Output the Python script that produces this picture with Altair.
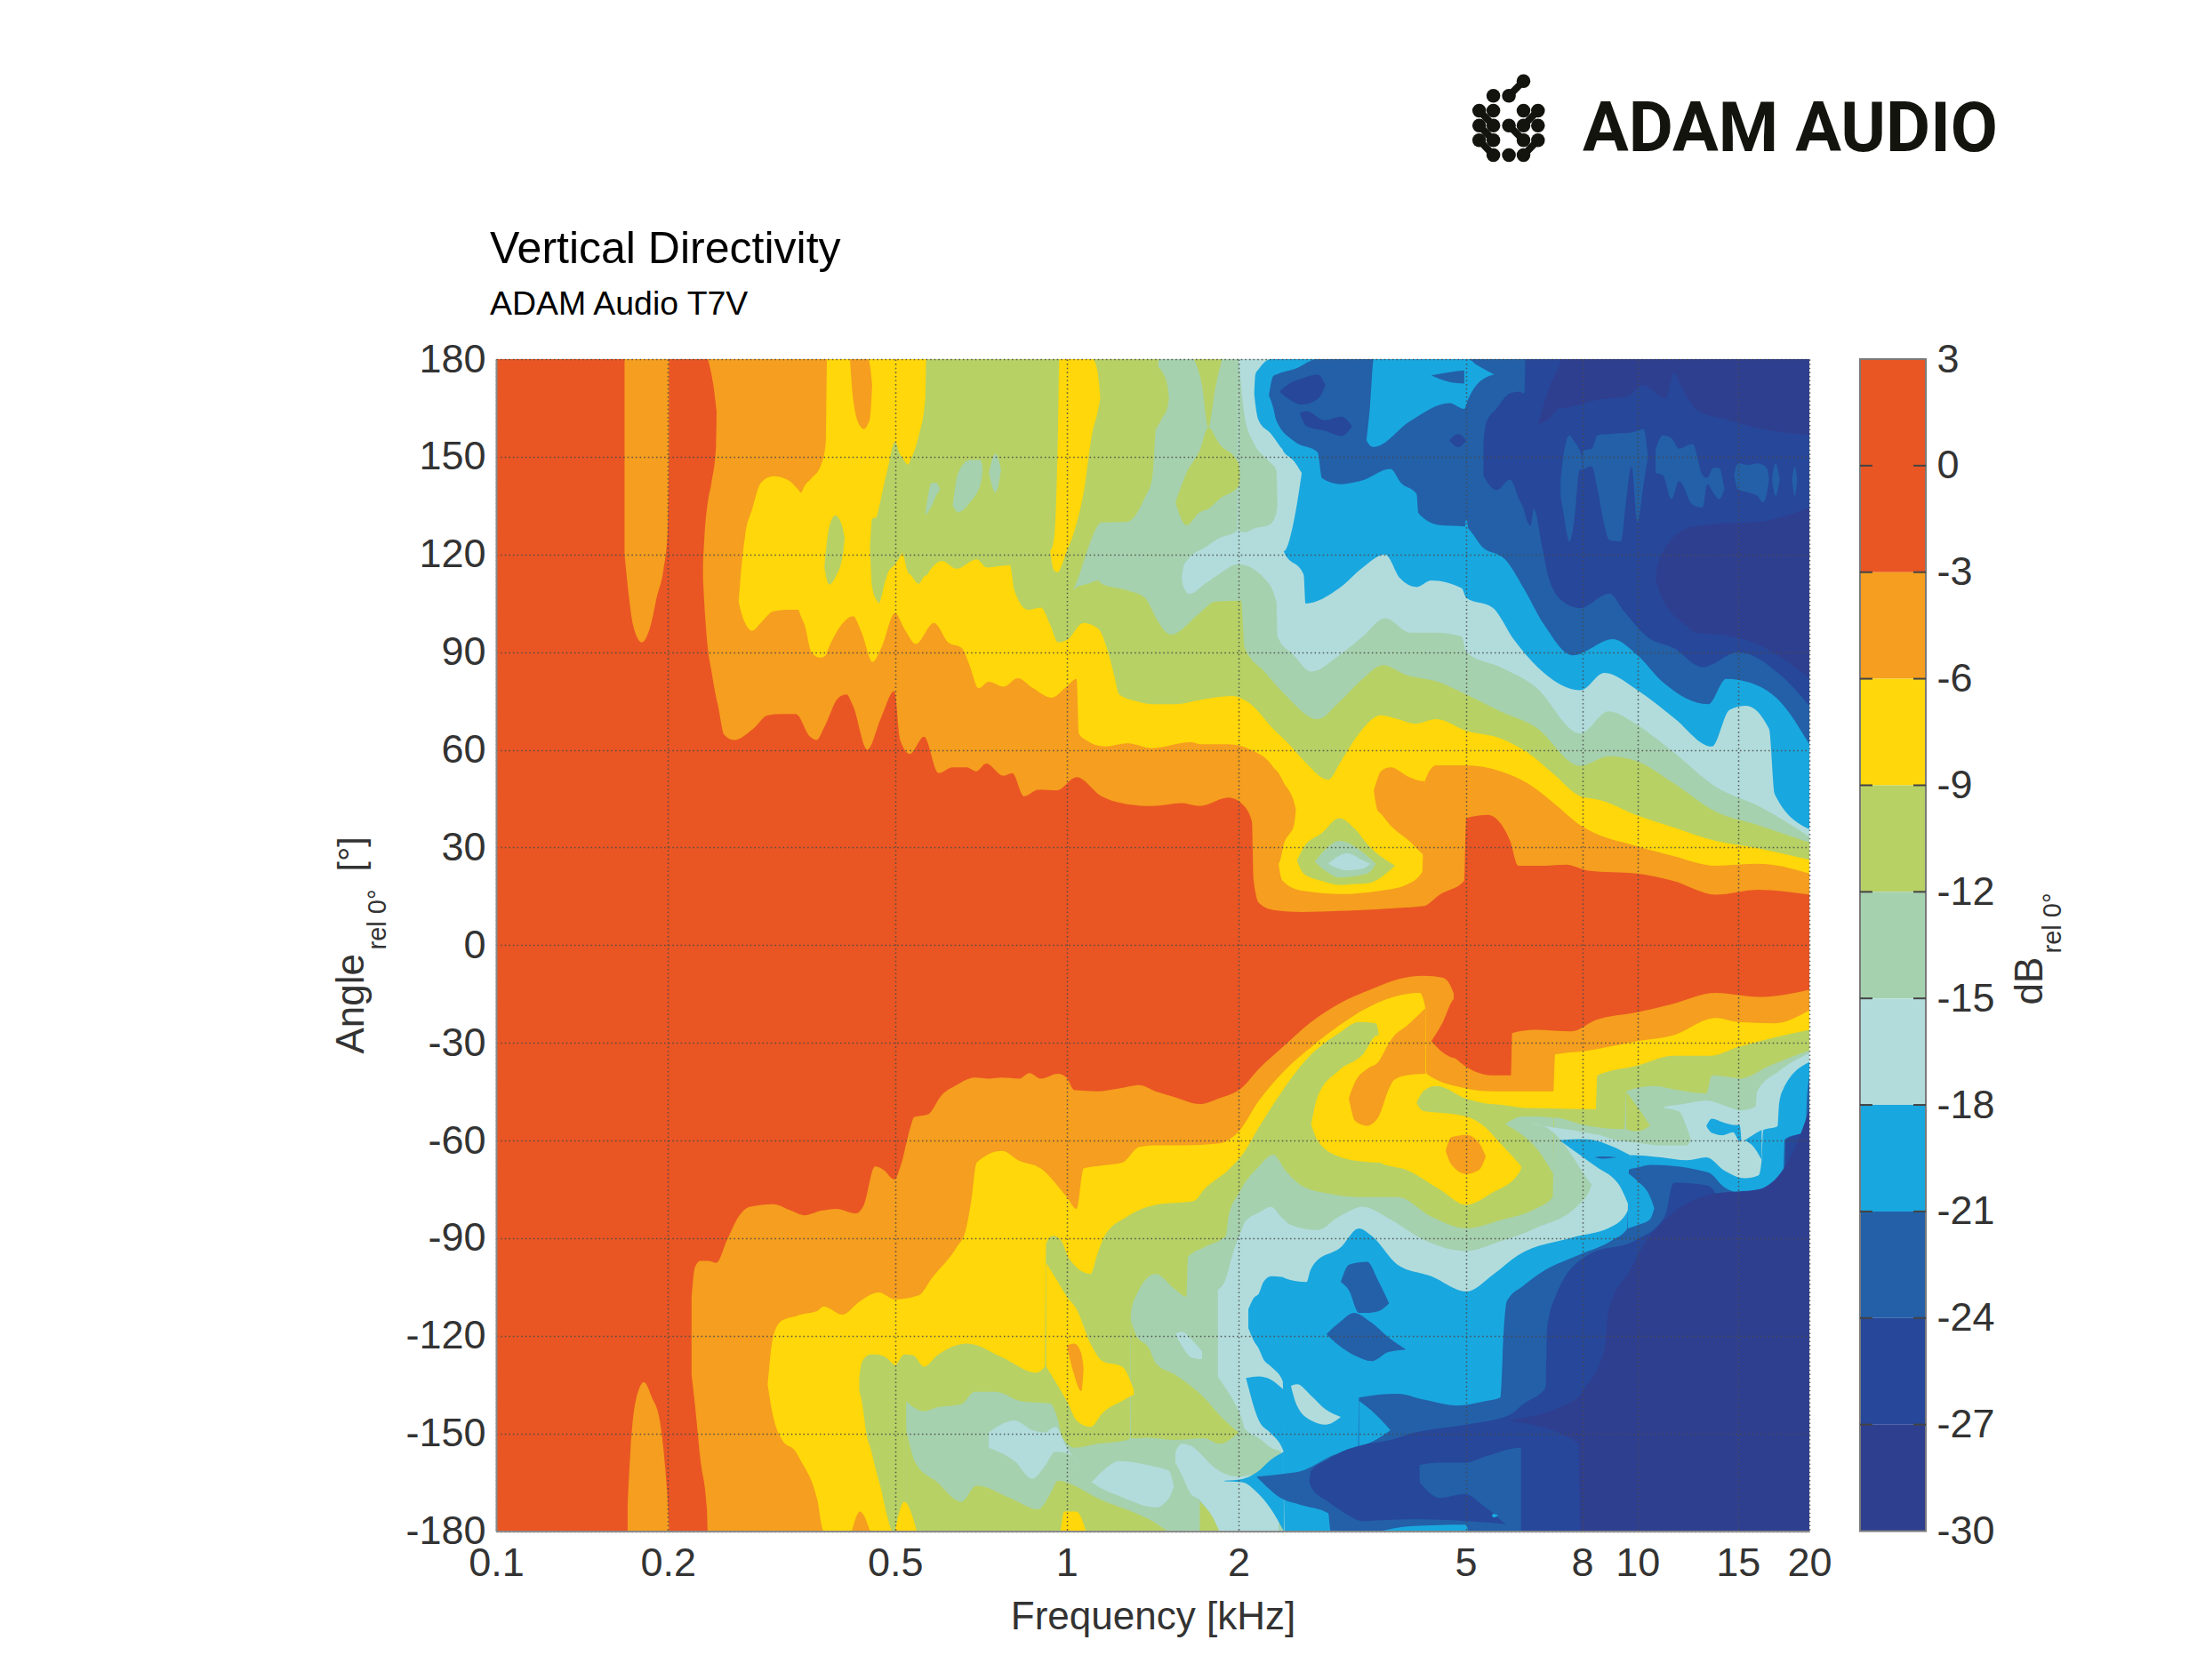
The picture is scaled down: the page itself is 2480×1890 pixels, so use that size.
import altair as alt
import pandas as pd

TITLE = "Vertical Directivity"
SUBTITLE = "ADAM Audio T7V"
BRAND = "ADAM AUDIO"
FREQ_TICKS = [0.1, 0.2, 0.5, 1, 2, 5, 8, 10, 15, 20]
ANGLE_TICKS = list(range(-180, 181, 30))
BAR_TICKS = [3, 0, -3, -6, -9, -12, -15, -18, -21, -24, -27, -30]
LEVELS = ["r", "o", "y", "g", "s", "p", "b", "m", "d", "c"]
COLORS = ["#E95623", "#F59E1F", "#FFD70A", "#B7D165", "#A6D1AF", "#B2DCDC", "#19A7DF", "#2360A8", "#27479A", "#2F3F90"]
BAR_HI = [3, -3, -6, -9, -12, -15, -18, -21, -24, -27]
BAR_LO = [-3, -6, -9, -12, -15, -18, -21, -24, -27, -30]

# Contour regions: (kHz, lower angle, upper angle); two values: the free side is the plot edge.
bg = [(0.1, -180, 180), (20, -180, 180)]
up_o_strip = [(.1679,120,180),(.1709,107,180),(.1739,98,180),(.18,93,180),(.1864,98,180),(.1913,107,180),(.1963,115,180),(.1998,127,180),(.2008,150,180)]
up_o_wedge = [(.235,180,180),(.243,165,180),(.2445,160,180)]
up_o = [(.2304,112.6,117.3),(.232,103,126.8),(.235,91,136.3),(.2385,84,142.2),(.243,76,154),(.2445,74),(.251,64.6),(.2615,63),(.282,66.4),(.299,70.6),(.316,71),(.335,71),(.355,64),(.3645,63),(.376,67),(.398,76),(.411,77),(.422,73.5),(.447,60),(.473,70),(.4985,78),(.5105,63),(.531,58.7),(.562,64),(.596,52.8),(.631,54.6),(.668,54.6),(.6935,53.4),(.7225,55.8),(.7745,52),(.8025,52.8),(.841,45.7),(.891,47.7),(.96,47.5),(1.04,51.6),(1.15,45.7),(1.275,43.3),(1.41,42.7),(1.59,43.6),(1.71,42.7),(1.92,45.3),(2.03,43.3),(2.11,38),(2.125,20),(2.17,13),(2.3,10.8),(2.58,10.2),(3.02,10.5),(3.8,11.4),(4.22,12),(4.5,15.5),(4.97,19.7),(5.01,39),(5.47,40),(5.75,37.4),(5.98,32),(6.18,24.4),(6.85,24.4),(7.5,24.7),(8.18,22.9),(10,22),(11.55,19.7),(13.7,15.5),(16.3,17),(20,15.5)]
low_o_strip = [(.17,-180,-172),(.172,-180,-155),(.1755,-180,-140.2),(.1816,-180,-134.3),(.1875,-180,-139),(.1935,-180,-146),(.198,-180,-161.5),(.2,-180,-172),(.201,-180,-180)]
low_o = [(.22,-132,-109),(.223,-141,-99),(.228,-158,-97),(.234,-173,-97),(.235,-180,-97),(.243,-180,-97.6),(.254,-180,-90.5),(.266,-180,-83.4),(.278,-180,-80.4),(.306,-180,-79.6),(.329,-180,-81.6),(.347,-180,-83),(.371,-180,-81.6),(.394,-180,-81),(.427,-180,-82.4),(.441,-180,-79.8),(.461,-180,-68),(.477,-180,-69),(.499,-180,-72),(.511,-180,-68),(.532,-180,-56),(.54,-180,-52.8),(.571,-180,-52),(.604,-180,-46),(.641,-180,-43),(.69,-180,-40.7),(.73,-180,-41),(.77,-180,-40.7),(.825,-180,-41),(.86,-180,-39.3),(.9,-180,-41),(.965,-180,-39.5),(.999,-180,-40.7),(1.03,-180,-44.5),(1.13,-180,-44.9),(1.235,-180,-44),(1.34,-180,-43),(1.43,-180,-44.9),(1.54,-180,-46.6),(1.71,-180,-48.8),(1.85,-180,-47),(2.02,-180,-44),(2.17,-180,-38),(2.41,-180,-30.7),(2.68,-180,-23.6),(3,-180,-18),(3.42,-180,-13.5),(3.8,-180,-10.5),(4.22,-180,-9.4),(4.56,-180,-10),(4.76,-180,-14.7),(4.8,-180,-34.8),(5.57,-180,-40),(6,-180,-40),(6.03,-180,-27),(6.62,-180,-26),(7.66,-180,-26.5),(8.45,-180,-23),(10,-180,-20.6),(11.55,-180,-18),(13.7,-180,-14.7),(16.3,-180,-15.9),(20,-180,-13.7)]
low_r_patch = [(4.35,-29.5,-29.5),(4.56,-33,-23.6),(4.74,-34.6,-17),(4.8,-34.8,-16),(4.84,-35.2,-15)]
up_y = [(.266,105.5,105.5),(.268,103,112.6),(.273,99,125.6),(.281,96.6,134),(.291,99,142),(.306,102.5,144),(.325,103,142.8),(.338,103,140),(.342,101,139),(.347,98.4,141),(.357,90,143.4),(.37,88.3,147),(.378,89,154),(.38,90),(.403,98.4),(.422,101),(.437,96),(.457,87),(.473,91.3),(.5,102),(.519,97.2),(.544,92.5),(.585,99),(.62,93),(.654,91.3),(.677,85.4),(.7,78.9),(.73,80.9),(.775,79.4),(.82,82),(.873,78.9),(.94,76),(.999,79.4),(1.04,81.8),(1.05,65),(1.08,63),(1.165,61),(1.275,62),(1.41,60.5),(1.65,62.3),(1.71,61.7),(1.92,61.7),(2.1,60),(2.3,54.6),(2.35,25),(2.39,19.7),(2.58,16.7),(3.02,15.7),(3.55,16.7),(3.93,18.5),(4.2,22.6),(4.24,50.4),(4.44,55.2),(5.01,55.2),(5.75,53.4),(6.4,49.8),(7.1,43.9),(7.94,36.8),(10,30.3),(11.55,27.4),(13.7,24.4),(16.3,25),(20,22)]
low_y = [(.299,-135,-135),(.306,-145,-120),(.317,-152,-115.3),(.335,-155.6,-114),(.341,-158,-113.5),(.365,-170,-112.4),(.375,-180,-111),(.404,-180,-113.5),(.434,-180,-109.4),(.468,-180,-106.7),(.5,-180,-108.8),(.55,-180,-107.6),(.58,-180,-102.3),(.641,-180,-92.8),(.664,-180,-88),(.68,-180,-78.6),(.695,-180,-66.8),(.77,-180,-63.2),(.825,-180,-66.2),(.9,-180,-68.6),(1,-180,-77.4),(1.04,-180,-81),(1.07,-180,-68.6),(1.15,-180,-67.7),(1.25,-180,-66.8),(1.34,-180,-62),(1.43,-180,-61.5),(1.59,-180,-61.5),(1.85,-180,-60.9),(2,-180,-57.3),(2.17,-180,-47.8),(2.41,-180,-38.4),(2.68,-180,-31.3),(3,-180,-24.7),(3.3,-180,-20),(3.74,-180,-15.9),(4.15,-180,-14.7),(4.25,-180,-19.4),(4.27,-180,-39.5),(5.01,-180,-44),(5.57,-180,-44.9),(7.12,-180,-44.9),(7.17,-180,-33.6),(8.18,-180,-32.4),(10,-180,-29.5),(11.55,-180,-27.7),(13.7,-180,-22.4),(15,-180,-23.6),(17.4,-180,-24),(20,-180,-20)]
up_o_top = [(.417,180,180),(.422,168,180),(.434,159.5,180),(.441,158.5,180),(.448,160,180),(.452,162,178),(.456,172,172)]
up_o_lobe = [(2.3,54.6,54.6),(2.35,25,52.8),(2.41,32,49.3),(2.45,33.9,47.5),(2.5,36.8,44),(2.52,41.6,41.6)]
up_o_bay = [(3.45,47.5,47.5),(3.5,41.6,51),(3.55,40.4,53.4),(3.69,36.8,54.6),(3.98,32,51.6),(4.2,28,50.4),(4.24,27.4,50.4)]
low_o_spike = [(.42,-180,-180),(.434,-180,-174),(.452,-180,-180)]
up_g = [(.452,122,122),(.456,110,131),(.464,106,131.5),(.468,105,134),(.481,112,143.4),(.485,114,146),(.5,117,154.6),(.511,119.5,150.5),(.514,120.5,150),(.527,114.5,147.6),(.532,113.8,149),(.55,111,156.4),(.565,113.5,168),(.567,113.5),(.575,115),(.604,118),(.641,115.6),(.695,118.5),(.724,116),(.795,116.7),(.809,109),(.855,103),(.9,103.7),(.935,98.4),(.965,93),(1,93.7),(1.07,99),(1.135,97.2),(1.175,91.3),(1.21,83),(1.235,77),(1.34,74.7),(1.41,74),(1.55,74),(1.71,75.3),(1.95,76.5),(2.1,74),(2.3,66.4),(2.45,61.7),(2.63,55.8),(2.87,50.8),(3.02,56.4),(3.25,65),(3.55,70.6),(3.8,69.4),(4.08,68),(4.44,69.4),(5.01,65.8),(5.75,63.5),(6.4,59.3),(7.1,52.8),(7.94,45.7),(8.6,44.5),(10,39.8),(11.55,36.2),(13.7,32),(16.3,29.7),(20,26.2)]
up_g_isle = [(.376,116,116),(.383,110.8,128),(.393,113,132),(.405,120,128),(.408,125,125)]
up_y_strip = [(.935,121,121),(.95,115,125),(.965,114.5,158),(.97,115,180),(.995,120,180),(1.03,127,180),(1.07,139,180),(1.11,158,180),(1.13,163,177),(1.145,168,168)]
up_s = [(1.025,109,109),(1.04,110,111.4),(1.09,111,122),(1.135,112,129),(1.15,111,129.8),(1.275,109,130),(1.37,106.7,137.5),(1.41,103,143),(1.43,100.8,158),(1.45,99,180),(1.52,95.4),(1.71,102),(1.82,105.5),(2.02,105.8),(2.05,91.3),(2.22,84),(2.41,77),(2.75,69.4),(3,74.7),(3.3,81.8),(3.58,86),(3.93,83),(4.44,81),(5.01,77),(5.75,71.8),(6.62,67),(7.94,55),(8.9,58),(10,56.4),(11.55,49.8),(13.7,41),(16.3,36.8),(20,31.5)]
up_s_i1 = [(.565,132,132),(.58,135,142),(.59,138,142),(.6,140,140)]
up_s_i2 = [(.631,135,135),(.645,133,145),(.676,136,149),(.707,142,149),(.712,146,146)]
up_s_i3 = [(.73,145,145),(.75,139,151),(.767,146,146)]
up_p = [(1.59,112.6,112.6),(1.6,110.2,116),(1.64,107.9,119),(1.74,110.8,122),(1.85,114,125),(1.99,117,127.4),(2,117,180),(2.22,112.6),(2.33,105.5),(2.34,94.8),(2.5,89),(2.68,84),(3,89),(3.3,94.8),(3.61,100.4),(4,96),(4.44,96),(4.92,94.8),(5.01,90),(5.75,85.4),(6.62,79.4),(7.94,65),(8.9,71.8),(10,67.6),(11.55,59.3),(13.7,48.7),(16.3,42.7),(20,33.3)]
up_s_patch = [(2,127.4,180),(2.05,126.8,162.3),(2.13,128,154),(2.26,129,148.7),(2.33,132.7,145.8),(2.34,136,136)]
up_g_left = [(1.43,158,178),(1.47,162,176),(1.5,165,172),(1.51,168,168)]
up_g_top = [(1.67,180,180),(1.725,172,180),(1.77,159,180),(1.82,171,180),(1.87,180,180)]
up_g_blob = [(1.55,136,136),(1.62,129,145),(1.71,133,152),(1.77,134,159),(1.85,137,154),(2,141,148),(2.01,144,144)]
up_g_isle2 = [(2.53,26,26),(2.6,22,30),(2.8,19.7,34.5),(3,18.5,39),(3.2,18.8,35.6),(3.36,19,31),(3.76,24.4,24.4)]
up_s_isle2 = [(2.72,25.6,25.6),(2.85,22.6,29.7),(3,20.8,32),(3.36,22,27.4),(3.48,25,25)]
up_p_isle = [(2.87,25,25),(3.1,23,28.2),(3.3,23.5,26),(3.4,25,25)]
up_b = [(2.13,169.4,169.4),(2.14,166,175.3),(2.17,161,177),(2.28,157,180),(2.37,152.9),(2.39,152),(2.4,120.9),(2.6,113.8),(2.62,104.9),(3,109.6),(3.3,116),(3.61,120),(3.84,112.6),(4.1,110),(4.35,112),(4.92,109.6),(5.01,106.7),(5.57,103.7),(6.08,93.7),(6.68,85.4),(7.94,78.3),(8.75,83.6),(10,78.3),(11.55,70),(13.5,61),(14.5,72.3),(15.5,73.5),(17,66.4),(17.4,46.3),(20,35.6)]
up_p_notch = [(2.37,153,153),(2.4,121,151.5),(2.5,130.4,148.7),(2.58,145,145)]
up_m = [(2.26,168.8,168.8),(2.3,165,174.8),(2.33,161,175.3),(2.51,154.6,177),(2.75,151.4,180),(2.8,143.4),(3.02,141.6),(3.3,142.8),(3.69,146.3),(3.85,142),(4.1,138.6),(4.13,132.7),(4.5,129),(4.97,128.6),(5.37,122),(5.86,118.5),(6.3,110),(6.86,98.4),(7.7,89),(9.05,94),(10,89),(11.1,80.6),(13.3,74),(14.3,81.8),(15.75,80.6),(17.8,74.7),(20,61.7)]
up_b_pen = [(3.35,155,155),(3.4,153.4,166),(3.45,153,180),(4,161,180),(4.68,166.5,180),(4.97,164.7,180),(5.05,167.7,180),(5.22,172,178.3),(5.61,175.3,175.3)]
up_m_sliver = [(4.35,175,175),(4.68,173,176),(4.97,172.5,176.5)]
up_d_i1 = [(2.36,170,170),(2.45,167.7,172.4),(2.58,166,174),(2.75,167.7,175.3),(2.84,172,172)]
up_d_i2 = [(2.56,163.5,163.5),(2.63,159.4,164),(2.83,158,161.2),(3.03,156.4,162.3),(3.16,159.4,159.4)]
up_d_i3 = [(4.68,155,155),(4.85,153,157),(5.01,155,155)]
up_b_dot = [(4.98,127,127),(5.01,126,131),(5.05,128,128)]
up_d = [(5.37,144.4,154),(5.42,143,160),(5.67,139.8,165),(5.98,143,169.5),(6.2,137,170),(6.34,133,169.4),(6.36,132,180),(6.5,128.9),(6.58,134),(6.82,121.6),(6.95,114.4),(7.38,105.7),(7.92,103.5),(8.93,108),(9.47,102.5),(10.45,94.4),(11.55,91.3),(13,85.4),(15,90),(17.8,83),(20,73.5)]
up_c1 = [(6.7,160,160),(7.03,162,172),(7.3,165,178),(7.37,165,180),(8.5,167.5,180),(9.6,168.5,180),(10.2,172,180),(11.2,168,180),(11.6,176,180),(11.9,172,180),(12.7,164.4,180),(14.2,161.6,180),(16.1,159,180),(20,156.6,180)]
up_c2 = [(10.75,113,113),(10.95,108,119),(12.2,98,128),(12.6,96,128.5),(13.9,95.4,129.5),(16.2,92.5,130),(20,82,134.4)]
up_st1 = [(7.33,138,142.5),(7.42,132.5,150.7),(7.6,124,156.6),(7.74,130,154.8),(7.92,146,152),(8,146,150)]
up_st2 = [(8.02,146,152),(8.31,147,152.5),(8.51,140,156.6),(8.72,130,156.9),(8.93,124.4,157),(9.36,124,157.3),(9.53,135,157.3),(9.76,147,157.5),(10,130,158),(10.25,141.6,158.5),(10.43,150,150)]
up_st3 = [(10.75,145,152),(11.07,144.4,156.6),(11.47,137,155.7),(11.83,142.5,152.5),(12.48,135.3,153.9),(13,134.4,144.4),(13.25,141.6,143.5),(13.57,139,146.6),(13.9,137,146.6),(14.2,140,140)]
up_st4 = [(14.76,144.4,144.4),(15,140,148),(15.66,139,147.5),(16.2,138,148),(16.6,136,147.5),(16.9,140,146),(17,143,143)]
up_st5 = [(17.2,143,143),(17.45,138,148),(17.75,143,143)]
up_st6 = [(18.65,143,143),(18.85,138,147),(19.05,143,143)]

low_g = [(.433,-137,-133),(.437,-140,-128.3),(.448,-152,-126),(.452,-154,-125.7),(.461,-160,-125.7),(.473,-167.4,-126),(.485,-175.7,-127),(.495,-180,-128.5),(.5,-180,-129),(.519,-180,-125.7),(.538,-180,-126),(.562,-180,-129.5),(.593,-180,-126),(.669,-180,-122.4),(.77,-180,-126.6),(.883,-180,-131.3),(.915,-180,-129.5),(.92,-180,-91.6),(.945,-180,-89.3),(.975,-180,-90.5),(1.01,-180,-96.4),(1.1,-180,-101),(1.13,-180,-95.2),(1.165,-180,-89.3),(1.275,-180,-83.4),(1.43,-180,-79.8),(1.67,-180,-78.6),(1.74,-180,-75),(1.92,-180,-69),(2.03,-180,-64.4),(2.17,-180,-56),(2.37,-180,-45.5),(2.68,-180,-33.6),(3,-180,-27),(3.25,-180,-23.6),(3.48,-180,-24),(3.52,-180,-27.7),(3.54,-180,-66.8),(3.93,-180,-69),(4.5,-180,-75),(5.01,-180,-79.8),(5.57,-180,-76),(6.18,-180,-70.3),(6.25,-180,-68.5),(6.3,-180,-50),(8.45,-180,-50.4),(8.5,-180,-40.1),(10,-180,-37),(11.55,-180,-34),(13.4,-180,-34),(15,-180,-31.3),(20,-180,-26)]
low_s = [(.523,-180,-140.2),(.562,-180,-143.2),(.593,-180,-142),(.653,-180,-141),(.69,-180,-137.2),(.75,-180,-137.2),(.835,-180,-140.2),(.935,-180,-140.8),(.965,-180,-146),(.98,-180,-150.8),(1.03,-180,-154.4),(1.13,-180,-153.2),(1.275,-180,-152),(1.29,-180,-151.5),(1.295,-180,-113),(1.32,-180,-108),(1.43,-180,-101),(1.55,-180,-105.8),(1.62,-180,-108),(1.63,-180,-95.8),(1.74,-180,-92.8),(1.9,-180,-89.3),(1.92,-180,-83.4),(2,-180,-76.3),(2.17,-180,-68),(2.3,-180,-64.4),(2.41,-180,-69),(2.58,-180,-73.9),(2.87,-180,-76.3),(3.25,-180,-77.4),(3.8,-180,-77.4),(4.35,-180,-83.4),(5.01,-180,-87),(5.75,-180,-84.5),(6.62,-180,-81),(7.1,-180,-77.4),(7.15,-180,-53),(8.03,-180,-55.2),(9.4,-180,-56.5),(9.49,-180,-56.5),(9.55,-180,-44.9),(10.7,-180,-43.3),(11.8,-180,-44.6),(13.2,-180,-45.6),(13.5,-180,-40),(14.4,-180,-40.5),(15.1,-180,-41),(17.1,-180,-36.9),(20,-180,-32.3)]
low_g_bottom = [(.523,-180,-148.5),(.543,-180,-159),(.593,-180,-165),(.653,-180,-171),(.695,-180,-166),(.795,-180,-169.8),(.891,-180,-173.3),(.935,-180,-168.6),(.965,-180,-164.5),(1.03,-180,-166),(1.13,-180,-169.8),(1.32,-180,-174.5),(1.43,-180,-177.5),(1.5,-180,-180)]
low_g_band = [(1.295,-151.5,-115),(1.32,-151.5,-119.5),(1.395,-151.3,-124),(1.43,-151.5,-128.3),(1.55,-152,-132),(1.74,-151.5,-139),(1.85,-153.2,-144.3),(2,-149.7,-149.7)]
low_g_spike = [(1.71,-180,-171),(1.8,-180,-175.7),(1.85,-180,-180)]
low_g_finger = [(4.1,-48.5,-48.5),(4.22,-51,-44.8),(4.44,-51.4,-43.3),(5.01,-52.6,-47.2),(5.37,-55.5,-48.5),(5.75,-60.9,-49),(6.3,-68.5,-50)]
low_g_wedge = [(9.55,-56.5,-45),(9.95,-57.2,-49.2),(10.5,-55.6,-55.2)]
low_y_blob = [(2.68,-55,-55),(2.75,-60,-46.6),(3,-65,-38.4),(3.3,-66.5,-33.6),(3.5,-66.8,-27.7),(3.54,-66.8,-27.7)]
low_y_lobe = [(.92,-129.5,-97.6),(.965,-135.4,-103.5),(1,-140,-108),(1.04,-146,-111.8),(1.1,-148,-122.4),(1.155,-143.7,-127.8),(1.25,-140,-129.5),(1.31,-138,-136.6)]
low_y_sp1 = [(.5,-180,-180),(.519,-180,-171),(.546,-180,-180)]
low_y_sp2 = [(.975,-180,-180),(.99,-180,-174),(1.04,-180,-174),(1.08,-180,-180)]
low_o_isle = [(1,-123,-123),(1.03,-132,-122.4),(1.06,-137,-125.4),(1.07,-130,-130)]
low_o_inlet = [(3.12,-47,-47),(3.2,-54,-42),(3.36,-55.5,-38),(3.51,-53,-36),(3.67,-44,-30),(3.74,-41.5,-28),(3.93,-40,-25),(4.25,-39.5,-19.4)]
low_o_dot = [(4.61,-63.2,-63.2),(4.72,-67.4,-59),(5.01,-70.3,-58.3),(5.28,-69,-60.9),(5.42,-65,-65)]
low_s_hook = [(5.86,-55,-55),(6.3,-58.5,-52.6),(6.62,-62,-52.6),(7.12,-70.3,-53)]
low_p = [(1.84,-132.5,-105.8),(1.89,-135.6,-103.5),(1.96,-140,-94),(2.03,-146,-87),(2.05,-148.5,-85.1),(2.17,-151.4,-82.2),(2.28,-154.4,-80.4),(2.37,-155.6,-83.4),(2.41,-180,-84.5),(2.45,-180,-85.7),(2.75,-180,-87.5),(3,-180,-83.4),(3.3,-180,-80.4),(3.67,-180,-84),(4.22,-180,-90.5),(5.01,-180,-94),(5.75,-180,-91),(6.62,-180,-87),(7.88,-180,-79.8),(8.3,-180,-73.9),(8.35,-180,-58),(9.07,-180,-59.7),(9.95,-180,-60.7),(11.1,-180,-61.6),(11.15,-180,-49.7),(12.06,-180,-48.8),(13.2,-180,-47.8),(14.4,-180,-49.7),(15.1,-180,-50.8),(16.1,-180,-49.7),(16.2,-180,-45),(17.7,-180,-38.7),(20,-180,-33.2)]
low_p_hook = [(6.47,-54.7,-54.7),(6.92,-56,-55.7),(7.46,-61.5,-56.5),(7.66,-64.4,-56.8),(8.03,-70,-57.5),(8.35,-74,-58)]
low_s_r = [(11.1,-61.6,-50),(11.8,-61.6,-51),(12.2,-61.6,-56),(12.4,-59.7,-59.7)]
low_p1 = [(.73,-154.4,-149.7),(.81,-158.5,-146),(.87,-163.9,-149),(.915,-160,-149.7),(.955,-155.6,-148),(1,-156,-154.4),(1.06,-160.3,-160.3)]
low_p2 = [(1.105,-165,-165),(1.165,-167.4,-161),(1.235,-169.2,-158.5),(1.43,-172.7,-160.3),(1.51,-169.8,-161.5),(1.54,-166.2,-166.2)]
low_p3 = [(1.55,-159,-155.6),(1.59,-162.7,-153.2),(1.65,-168.6,-153.8),(1.71,-170.4,-156),(1.74,-172,-157.4),(1.8,-175.7,-160),(1.85,-180,-161.5),(2,-180,-163.3),(2.13,-180,-162.7),(2.28,-180,-170),(2.35,-180,-170)]
low_p4 = [(1.55,-119.5,-119.5),(1.59,-123,-118.8),(1.65,-126.6,-121),(1.725,-127.2,-124.8)]
low_b = [(2.08,-117.7,-111.8),(2.13,-121.8,-108.2),(2.17,-124,-107),(2.21,-127.2,-103.5),(2.28,-129.5,-101.7),(2.39,-134,-102),(2.41,-180,-102.3),(2.63,-180,-103.5),(2.67,-180,-100),(2.72,-180,-97.6),(3.02,-180,-92.8),(3.25,-180,-87),(3.42,-180,-89.3),(3.8,-180,-98.2),(4.35,-180,-101.7),(5.01,-180,-106.4),(5.6,-180,-101),(6.18,-180,-95.2),(7.66,-180,-89.9),(9.05,-180,-86.3),(9.66,-180,-80.8),(9.7,-180,-64.5),(11,-180,-65.2),(12.2,-180,-66.1),(13.2,-180,-65.2),(14.2,-180,-69.3),(15.4,-180,-71.6),(16.3,-180,-70.7),(16.5,-180,-66),(16.6,-180,-56.8),(17.6,-180,-55.6),(17.7,-180,-48.8),(18,-180,-44.2),(20,-180,-35.9)]
low_b_left = [(2.06,-133,-133),(2.17,-146,-132.5),(2.28,-150,-133.5),(2.36,-153,-135.5),(2.4,-155.6,-136.6)]
low_b_tip = [(1.89,-164.7,-164.5),(2.03,-165,-164),(2.15,-168,-162),(2.28,-173.3,-158),(2.4,-180,-155.6)]
low_b_strip = [(7.3,-59.9,-59.9),(8.03,-65.2,-59.6),(8.52,-68.4,-60.2),(9.07,-71.6,-62),(9.27,-73.5,-62.7),(9.7,-81,-64.5)]
low_b_lobe = [(15.4,-60,-60),(15.9,-61.6,-58.4),(16.5,-66,-56.8)]
low_b_isle = [(13.2,-55.6,-55.6),(13.5,-57.7,-53.3),(14.1,-58.4,-54.4),(14.7,-57.5,-55.2),(15.1,-60.2,-55.3),(15.2,-60.2,-59.8)]
low_p_isle = [(2.47,-135.4,-135.4),(2.53,-141.4,-134.9),(2.68,-146,-138.4),(2.84,-147.3,-142.6),(3.02,-144.9,-144.9)]
low_m = [(2.15,-163.3,-163.3),(2.37,-169.8,-162.5),(2.58,-172,-161.5),(2.87,-174.5,-157.4),(2.9,-180,-157),(3.24,-180,-154.4),(3.25,-180,-139),(3.8,-180,-137.8),(4.22,-180,-139.6),(4.84,-180,-141.4),(5.37,-180,-140.2),(5.75,-180,-139),(5.83,-180,-118),(5.9,-180,-109.4),(6.3,-180,-104.7),(6.86,-180,-100),(7.88,-180,-95.2),(9.05,-180,-90.5),(9.6,-180,-87),(9.66,-180,-69),(9.95,-180,-68.4),(10.6,-180,-67.5),(13.3,-180,-69.8),(14.2,-180,-74.4),(15.1,-180,-76.2),(16.2,-180,-76.7),(18,-180,-72.5),(18.1,-180,-59.7),(19.7,-180,-57),(19.8,-180,-48),(20,-180,-40.5)]
low_b_w1 = [(3.25,-154,-140),(3.42,-152.6,-143),(3.69,-149,-149)]
low_b_w2 = [(9.62,-87,-70),(10,-86,-72.5),(10.5,-84.4,-77),(10.7,-80.8,-80.8)]
low_m_isle_a = [(3.02,-103.5,-103.5),(3.12,-106,-98.2),(3.25,-113,-97.5),(3.36,-113,-97.3),(3.51,-112.5,-103),(3.67,-110,-110)]
low_m_isle_b = [(2.85,-119.5,-119.5),(3,-123,-116),(3.19,-126,-113),(3.42,-127.8,-116),(3.66,-125,-120.5),(3.93,-124.2,-124.2)]
low_m_dot = [(8.4,-65.2,-65.2),(8.7,-65.6,-64.9),(9.2,-65.2,-65.2)]
low_d = [(2.66,-164.5,-164.5),(2.68,-166.5,-161.5),(2.87,-171,-158),(3,-173.3,-156),(3.3,-176.9,-153.5),(3.69,-176.5,-152),(4.08,-176.3,-149.7),(5.01,-176.9,-147.3),(5.97,-178,-144.3),(6.3,-180,-141),(6.9,-180,-136),(6.94,-180,-118),(7.22,-180,-107),(8.18,-180,-95.2),(9.95,-180,-90.5),(11.1,-180,-84),(11.3,-180,-80),(11.4,-180,-76.2),(11.6,-180,-73),(13.3,-180,-73.9),(14,-180,-78),(15.1,-180,-79.9),(17.1,-180,-78),(18.1,-180,-72.5),(18.2,-180,-59.7),(20,-180,-57.5)]
low_c = [(5.97,-146,-146),(7.88,-153,-139),(7.94,-180,-138),(8.75,-180,-124),(8.9,-180,-112),(9.7,-180,-100),(10.3,-180,-91.6),(11.55,-180,-82.2),(13.7,-180,-76.3),(16.3,-180,-75),(19.5,-180,-56),(20,-180,-50.2)]
low_m_patch = [(4.15,-165,-159.7),(4.5,-169.8,-159),(4.97,-168.6,-159),(5.47,-173.3,-156.8),(6.22,-180,-154.4),(6.25,-180,-154.4)]
low_b_bottom = [(3.55,-180,-180),(4,-180,-178.5),(5.01,-180,-178),(5.05,-180,-180)]
low_b_dot = [(5.55,-175.2,-175.2),(5.6,-175.8,-174.7),(5.7,-175.2,-175.2)]

PAINT = [
    ("r", bg), ("o", up_o_strip), ("o", up_o), ("o", up_o_wedge), ("o", low_o_strip), ("o", low_o), ("r", low_r_patch),
    ("y", up_y), ("y", low_y), ("o", up_o_top), ("o", up_o_lobe), ("o", up_o_bay), ("o", low_o_spike),
    ("g", up_g), ("g", low_g), ("g", up_g_isle), ("y", up_y_strip),
    ("s", up_s), ("s", low_s), ("s", up_s_i1), ("s", up_s_i2), ("s", up_s_i3),
    ("g", low_g_bottom), ("g", low_g_band), ("g", low_g_finger), ("g", low_g_wedge),
    ("y", low_y_blob), ("y", low_y_lobe), ("y", low_y_sp1), ("y", low_y_sp2),
    ("o", low_o_isle), ("o", low_o_inlet), ("o", low_o_dot), ("s", low_s_hook),
    ("p", up_p), ("p", low_p), ("p", low_p_hook), ("s", low_s_r), ("s", up_s_patch),
    ("g", up_g_left), ("g", up_g_top), ("g", up_g_blob),
    ("g", up_g_isle2), ("s", up_s_isle2), ("p", up_p_isle),
    ("p", low_p1), ("p", low_p2), ("p", low_p3), ("g", low_g_spike), ("p", low_p4),
    ("b", up_b), ("p", up_p_notch), ("b", low_b), ("b", low_b_left), ("b", low_b_tip), ("b", low_b_strip),
    ("b", low_b_lobe), ("b", low_b_isle), ("p", low_p_isle),
    ("m", up_m), ("b", up_b_pen), ("m", up_m_sliver), ("d", up_d_i1), ("d", up_d_i2), ("d", up_d_i3), ("b", up_b_dot),
    ("d", up_d), ("c", up_c1), ("c", up_c2),
    ("m", up_st1), ("m", up_st2), ("m", up_st3), ("m", up_st4), ("m", up_st5), ("m", up_st6),
    ("m", low_m), ("b", low_b_w1), ("b", low_b_w2), ("m", low_m_isle_a), ("m", low_m_isle_b), ("m", low_m_dot),
    ("d", low_d), ("c", low_c), ("m", low_m_patch), ("b", low_b_bottom), ("b", low_b_dot),
]

LOGO_DOT_X = [1155.5, 1121.6, 1139.1, 1105.7, 1121.6, 1155.5, 1171.8, 1105.7, 1121.6, 1139.1, 1155.5, 1171.8, 1105.7, 1121.6, 1155.5, 1171.8, 1121.6, 1139.1, 1155.5]
LOGO_DOT_Y = [-312.8, -296.2, -296.2, -279.5, -279.5, -279.5, -279.5, -262.8, -262.8, -262.8, -262.8, -262.8, -246.2, -246.2, -246.2, -246.2, -229.5, -229.5, -229.5]
LOGO_LINKS = [(1139.1, -296.2, 1155.5, -312.8), (1105.7, -279.5, 1121.6, -262.8), (1171.8, -279.5, 1155.5, -262.8), (1139.1, -262.8, 1155.5, -246.2), (1105.7, -262.8, 1121.6, -246.2), (1171.8, -246.2, 1155.5, -229.5), (1105.7, -246.2, 1121.6, -229.5)]

FONT = "Liberation Sans"
INK = "#333333"
W, H = 1477, 1318.5

xscale = alt.Scale(type="log", domain=[0.1, 20], nice=False)
yscale = alt.Scale(domain=[-180, 180], nice=False, zero=False)
cscale = alt.Scale(domain=LEVELS, range=COLORS)

def rows(level, pts):
    out = []
    for p in sorted(pts, key=lambda t: t[0]):
        lo, hi = (p[1], p[2]) if len(p) == 3 else (p[1], 180)
        out.append({"f": p[0], "lo": lo, "hi": hi, "level": level})
    return out

x_axis = alt.Axis(values=FREQ_TICKS, grid=True, gridDash=[1.6, 3], gridColor="#4a4a4a", gridWidth=1.5, gridOpacity=0.85,
                  ticks=False, domain=True, domainColor="#8a8a8a", domainWidth=2, labelFont=FONT, labelFontSize=45,
                  labelColor=INK, labelPadding=14, labelExpr="'' + datum.value", labelFlush=False, labelOverlap=False,
                  title="Frequency [kHz]", titleFont=FONT, titleFontSize=44, titleFontWeight="normal", titleColor=INK,
                  titlePadding=16, zindex=1)
y_axis = alt.Axis(values=ANGLE_TICKS, grid=True, gridDash=[1.6, 3], gridColor="#4a4a4a", gridWidth=1.5, gridOpacity=0.85,
                  ticks=False, domain=True, domainColor="#8a8a8a", domainWidth=2, labelFont=FONT, labelFontSize=45,
                  labelColor=INK, labelPadding=12, labelExpr="'' + datum.value", labelOverlap=False, title=None, zindex=1)

def area_layer(level, pts, first=False):
    return alt.Chart(pd.DataFrame(rows(level, pts))).mark_area(interpolate="monotone").encode(
        x=alt.X("f:Q", scale=xscale, axis=x_axis if first else None),
        y=alt.Y("lo:Q", scale=yscale, axis=y_axis if first else None),
        y2="hi:Q",
        color=alt.Color("level:N", scale=cscale, legend=None),
    )

contours = [area_layer(lv, pts, i == 0) for i, (lv, pts) in enumerate(PAINT)]

bar_scale = alt.Scale(domain=[-30, 3], nice=False, zero=False)
BAR_X0, BAR_X1 = 1534, 1608
bar_axis = alt.Axis(orient="right", offset=131, values=BAR_TICKS, ticks=False, domain=False, grid=False, labelFont=FONT,
                    labelFontSize=45, labelColor=INK, labelPadding=12, labelExpr="'' + datum.value", labelOverlap=False, title=None)
bar_df = pd.DataFrame({"hi": BAR_HI, "lo": BAR_LO, "level": LEVELS})
bar_rect = alt.Chart(bar_df).mark_rect().encode(
    x=alt.value(BAR_X0), x2=alt.value(BAR_X1),
    y=alt.Y("hi:Q", scale=bar_scale, axis=bar_axis), y2="lo:Q",
    color=alt.Color("level:N", scale=cscale, legend=None),
)
bar_frame = alt.Chart(pd.DataFrame({"hi": [3], "lo": [-30]})).mark_rect(fillOpacity=0, stroke="#7a7a7a", strokeWidth=2).encode(
    x=alt.value(BAR_X0), x2=alt.value(BAR_X1), y=alt.Y("hi:Q", scale=bar_scale, axis=None), y2="lo:Q")
tick_df = pd.DataFrame({"t": BAR_TICKS[1:-1]})
tick_l = alt.Chart(tick_df).mark_rule(color="#444444", strokeWidth=2).encode(
    x=alt.value(BAR_X0), x2=alt.value(BAR_X0 + 14), y=alt.Y("t:Q", scale=bar_scale, axis=None))
tick_r = alt.Chart(tick_df).mark_rule(color="#444444", strokeWidth=2).encode(
    x=alt.value(BAR_X1 - 14), x2=alt.value(BAR_X1), y=alt.Y("t:Q", scale=bar_scale, axis=None))

def label(text, x, y, size, color=INK, angle=None, weight="normal", font=FONT):
    kw = {"angle": angle} if angle is not None else {}
    return alt.Chart(pd.DataFrame({"t": [text]})).mark_text(
        align="left", baseline="alphabetic", font=font, fontSize=size, fontWeight=weight, color=color, **kw
    ).encode(text="t:N", x=alt.value(x), y=alt.value(y))

notes = [
    label(TITLE, -7, -108, 50, "#000000"),
    label(SUBTITLE, -7, -50, 37.4, "#000000"),
    label("Angle", -149, 781.5, 44, angle=270),
    label("rel 0°", -124, 664.5, 29, angle=270),
    label("[°]", -149, 576.5, 41, angle=270),
    label("dB", 1739, 726.5, 44, angle=270),
    label("rel 0°", 1760, 668.5, 29, angle=270),
    label(BRAND, 1222, -234, 77, "#14140f", weight="bold", font="Roboto"),
]
links = [
    alt.Chart(pd.DataFrame({"k": [i]})).mark_rule(color="#14140f", strokeWidth=8, strokeCap="round").encode(
        x=alt.value(a), y=alt.value(b), x2=alt.value(c), y2=alt.value(d))
    for i, (a, b, c, d) in enumerate(LOGO_LINKS)
]
dots = [
    alt.Chart(pd.DataFrame({"k": [i]})).mark_point(filled=True, opacity=1, color="#14140f", size=240).encode(
        x=alt.value(px), y=alt.value(py))
    for i, (px, py) in enumerate(zip(LOGO_DOT_X, LOGO_DOT_Y))
]

chart = alt.layer(*contours, bar_rect, bar_frame, tick_l, tick_r, *links, *dots, *notes).resolve_scale(y="independent").resolve_axis(x="independent").properties(
    width=W, height=H, padding={"left": 366, "top": 75, "right": 10, "bottom": 10}, background="white"
).configure_view(stroke=None)

chart.save("out.html", embed_options={"renderer": "svg", "actions": False})
